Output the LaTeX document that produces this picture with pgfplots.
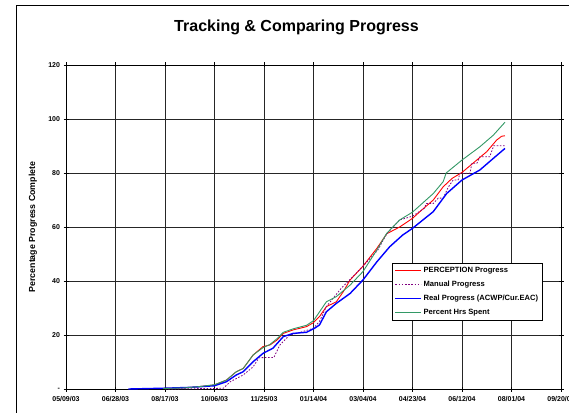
\documentclass[border=0pt]{standalone}
\usepackage{fontspec}
\setmainfont{Liberation Sans}
\usepackage{pgfplots}
\pgfplotsset{compat=1.18}
\definecolor{hrsgreen}{RGB}{51,153,102}
\definecolor{manpurple}{RGB}{128,0,128}
\begin{document}
\begin{tikzpicture}
\useasboundingbox (0pt,0pt) rectangle (569pt,412pt);
\fill[white] (0pt,0pt) rectangle (569pt,412pt);
\draw[line width=1pt] (16.5pt,-5pt) -- (16.5pt,406.3pt) -- (580pt,406.3pt);
\node[font=\bfseries\fontsize{16}{19}\selectfont, anchor=base, inner sep=0pt] at (296.5pt,380pt) {Tracking \& Comparing Progress};
\begin{axis}[
  at={(66pt,23pt)}, anchor=south west,
  scale only axis, width=495pt, height=324pt,
  xmin=0, xmax=500, ymin=0, ymax=120,
  xtick={0,50,...,500},
  xticklabels={05/09/03,06/28/03,08/17/03,10/06/03,11/25/03,01/14/04,03/04/04,04/23/04,06/12/04,08/01/04,09/20/04},
  ytick={0,20,...,120},
  yticklabels={-,20,40,60,80,100,120},
  grid=major,
  major grid style={black!85, line width=0.8pt},
  axis line style={black, line width=0.9pt},
  tick align=center, major tick length=5pt,
  tick style={black, line width=0.8pt},
  /pgf/number format/assume math mode=true,
  tick label style={font=\bfseries\fontsize{7}{8}\selectfont},
  xticklabel style={yshift=-1pt},
  ylabel={Percentage Progress Complete},
  ylabel style={font=\bfseries\fontsize{8.8}{10}\selectfont, at={(axis description cs:-0.0667,0.5)}, anchor=center},
  legend style={at={(0.659,0.389)}, anchor=north west, draw=black, line width=0.9pt,
    font=\bfseries\fontsize{7.6}{9}\selectfont, row sep=3pt, inner sep=2pt, fill=white},
  legend cell align=left,
  legend image code/.code={\draw[#1] (0cm,0cm) -- (0.9cm,0cm);},
]
\addplot[red, line width=0.9pt] coordinates {
(98,0.2) (120,0.4) (135,0.9) (150,1.5) (162,3.3) (172,6.4) (179,7.6) (189,12.6) (199,15.7)
(206,16.3) (213,18.1) (219.5,20.6) (229.6,21.9) (243,23.1) (250,24.6) (256,26.8) (263,30.5)
(273,32.3) (280,36) (287,40.4) (300,45.5) (314,52.1) (324,57.5) (337,60) (350,63.2) (360,66.5)
(371,70) (381,74.9) (390,78) (400,80.2) (411,83.6) (425,87.9) (435,92.2) (440,93.6) (443.4,93.8)
};
\addlegendentry{PERCEPTION Progress}
\addplot[manpurple, line width=0.8pt, dash pattern=on 1.6pt off 1.6pt] coordinates {
(100,0) (150,0.2) (159,0.3) (166,2.7) (179,5.2) (189,8.2) (195,11.6) (210,11.7) (216,16.3)
(226,20) (236,20.9) (250,22.5) (256,25) (263,30.5) (278,37.3) (287,40.6) (300,45.5) (315,51.5)
(324,57.5) (337,62.6) (350,64) (362,67) (364,68.7) (371,68.7) (376,70.7) (381,70.7) (386,74.7)
(391,77.4) (396,77.4) (398,79.9) (408,79.9) (410,83.6) (415,83.6) (418,86) (428,86) (432,90.1) (443.4,90.1)
};
\addlegendentry{Manual Progress}
\addplot[blue, line width=1.4pt] coordinates {
(63,0) (100,0.3) (125,0.6) (150,1.2) (162,2.7) (172,5.2) (179,6.4) (189,10.1) (199,13.2)
(209,15.1) (219.5,19.4) (229.6,20.6) (243,21) (251,22.5) (256,23.7) (263,28.6) (273,31.7)
(287,35.4) (300,40.4) (314,47.1) (327,52.7) (340,57) (350,59.5) (371,65.7) (384.5,72.4)
(400,77.4) (418,81.1) (431.6,85.4) (443.4,89.1)
};
\addlegendentry{Real Progress (ACWP/Cur.EAC)}
\addplot[hrsgreen, line width=0.9pt] coordinates {
(98,0.2) (120,0.4) (135,0.9) (150,1.6) (162,3.3) (172,6.4) (179,7.6) (189,12.6) (199,15.3)
(206,16.5) (213,18.6) (219.5,21) (229.6,22.3) (243,23.6) (250,25.3) (263,32.3) (273,34.2)
(287,38.5) (300,43.5) (314,51.5) (324,57.7) (337,62.6) (350,65.5) (371,72.4) (381,76.8)
(384,80) (400,84.8) (418,89.7) (431.6,94) (443.4,98.8)
};
\addlegendentry{Percent Hrs Spent}
\end{axis}
\end{tikzpicture}
\end{document}
